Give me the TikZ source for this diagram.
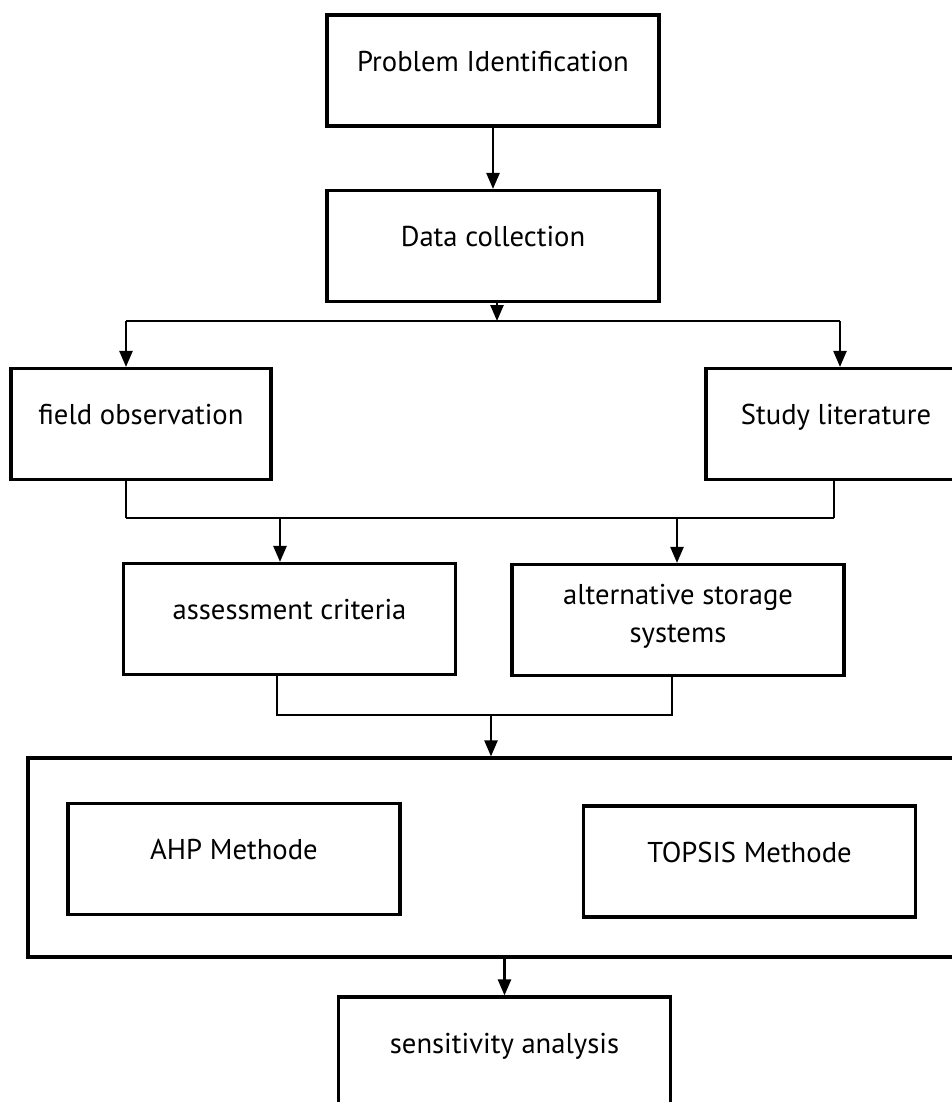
\documentclass[tikz,border=0pt]{standalone}
\usepackage{fontspec}
\setmainfont{PT Sans}
\usetikzlibrary{arrows.meta,positioning}

\begin{document}
\begin{tikzpicture}[
    box/.style={draw, line width=1.8pt, minimum width=6.64cm, minimum height=2.22cm, inner ysep=0.3cm, text height=0.82cm, text depth=0.8cm, font=\fontsize{16.3}{21.6}\selectfont},
    link/.style={line width=1.4pt},
    arr/.style={line width=1.4pt, -{Triangle[length=0.32cm, width=0.26cm]}}
]
    \useasboundingbox (0,0) rectangle (19.04,-22.04);

    \node[box] (prob) at (9.86,-1.41) {Problem Identification};
    \node[box] (data) at (9.86,-4.92) {Data collection};
    \node[box, minimum width=5.2cm] (field) at (2.82,-8.48) {field observation};
    \node[box, minimum width=5.2cm] (study) at (16.72,-8.48) {Study literature};
    \node[box] (assess) at (5.79,-12.38) {assessment criteria};
    \node[box, align=center, text height=1.26cm, text depth=0.36cm] (alter) at (13.56,-12.40) {alternative storage\\systems};
    \node[box, minimum width=18.54cm, minimum height=3.98cm] (method) at (9.83,-17.15) {};
    \node[box] (ahp) at (4.68,-17.18) {AHP Methode};
    \node[box] (topsis) at (14.99,-17.23) {TOPSIS Methode};
    \node[box] (sens) at (10.09,-21.05) {sensitivity analysis};

    \draw[arr] (prob) -- (data);

    \coordinate (split) at (9.94,-6.42);
    \coordinate (splitL) at (2.52,-6.42);
    \coordinate (splitR) at (16.8,-6.42);
    \draw[arr] (data.south -| split) -- (split);
    \draw[link] (splitL) -- (splitR);
    \draw[arr] (splitL) -- (splitL |- field.north);
    \draw[arr] (splitR) -- (splitR |- study.north);

    \coordinate (joinL) at (2.52,-10.36);
    \coordinate (joinR) at (16.68,-10.36);
    \coordinate (toA) at (5.6,-10.36);
    \coordinate (toB) at (13.54,-10.36);
    \draw[line width=0.6pt] (field.south -| joinL) -- (joinL);
    \draw[line width=0.6pt] (study.south -| joinR) -- (joinR);
    \draw[link] (joinL) -- (joinR);
    \draw[arr] (toA) -- (toA |- assess.north);
    \draw[arr] (toB) -- (toB |- alter.north);

    \coordinate (mergeL) at (5.54,-14.3);
    \coordinate (mergeR) at (13.44,-14.3);
    \coordinate (merge) at (9.82,-14.3);
    \draw[link] (assess.south -| mergeL) -- (mergeL) -- (mergeR) -- (alter.south -| mergeR);
    \draw[arr] (merge) -- (merge |- method.north);
    \draw[arr] (method.south -| sens) -- (sens);
\end{tikzpicture}
\end{document}
